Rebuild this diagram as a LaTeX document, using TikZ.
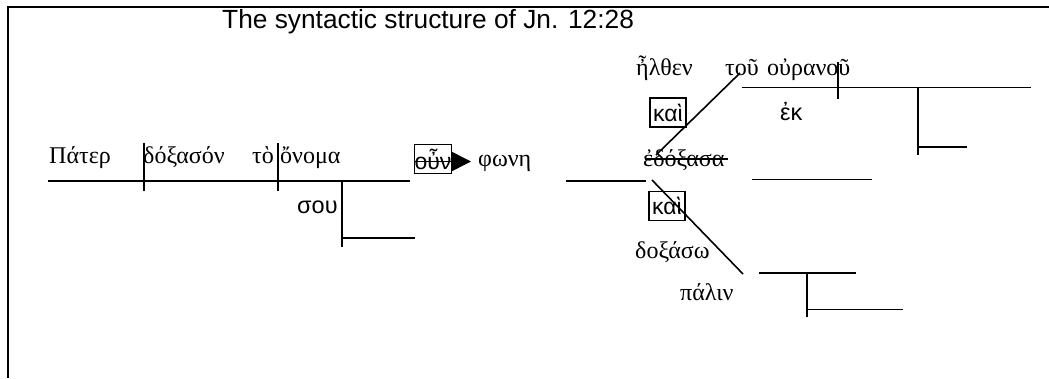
\documentclass[tikz,border=0pt]{standalone}
\usepackage{fontspec}
\setmainfont{Liberation Serif}
\newfontfamily\grsans{Liberation Sans}
\usetikzlibrary{arrows.meta}
\begin{document}
\begin{tikzpicture}[x=1pt,y=-1pt,
  ln/.style={line width=1.6pt},
  framel/.style={line width=2pt},
  gr/.style={anchor=base west,inner sep=0pt,font=\fontsize{24}{28}\selectfont},
  grs/.style={anchor=base west,inner sep=0pt,font=\grsans\fontsize{23.5}{28}\selectfont},
  kbox/.style={draw,line width=1.6pt,inner sep=0pt,minimum width=36pt,minimum height=29pt,font=\grsans\fontsize{23}{27}\selectfont}]
\useasboundingbox (0,0) rectangle (1049,378);
% frame
\coordinate (fTL) at (8,6.5);
\coordinate (fTR) at (1049,6.5);
\coordinate (fBL) at (8,378);
\draw[framel] (fTR) -- (fTL) -- (fBL);
% title
\node[anchor=base west,inner sep=0pt,font=\grsans\fontsize{26.3}{31}\selectfont] (title) at (222,28.3) {The syntactic structure of Jn. 12:28};
% words, left clause
\node[gr] (pater) at (49,163) {Πάτερ};
\node[gr] (doxason) at (143,163) {δόξασόν};
\node[gr] (to) at (252,163) {τὸ};
\node[gr] (onoma) at (280,163) {ὄνομα};
\node[grs] (sou) at (297,213) {σου};
\node[kbox] (oun) at (433,159) {οὖν};
\node[gr] (phone) at (478,166) {φωνη};
% right clause
\node[gr] (elthen) at (636,75) {ἦλθεν};
\node[gr] (tou) at (725,75) {τοῦ};
\node[gr] (ouranou) at (767,75) {οὐρανοῦ};
\node[kbox] (kai1) at (668,112.7) {καὶ};
\node[grs] (ek) at (780,120) {ἐκ};
\node[gr] (edoxasa) at (643,166) {ἐδόξασα};
\node[kbox] (kai2) at (667,206) {καὶ};
\node[gr] (doxaso) at (635,258) {δοξάσω};
\node[gr] (palin) at (680,300) {πάλιν};
% lines, left clause
\coordinate (mA) at (48,181);
\coordinate (mB) at (410,181);
\draw[ln] (mA) -- (mB);
\coordinate (t1a) at (144,143); \coordinate (t1b) at (144,191);
\draw[ln] (t1a) -- (t1b);
\coordinate (t2a) at (277.7,143); \coordinate (t2b) at (277.7,191);
\draw[ln] (t2a) -- (t2b);
\coordinate (sA) at (342,181); \coordinate (sB) at (342,247);
\draw[ln] (sA) -- (sB);
\coordinate (sC) at (342,238); \coordinate (sD) at (415,238);
\draw[ln] (sC) -- (sD);
% arrow through oun
\coordinate (arS) at (415,161.5); \coordinate (arE) at (471,161.5);
\draw[ln,-{Triangle[length=20pt,width=20pt]}] (arS) -- (arE);
% right clause lines
\coordinate (rA) at (566,181); \coordinate (rB) at (646,181);
\draw[ln] (rA) -- (rB);
\coordinate (stA) at (645,159); \coordinate (stB) at (728,159);
\draw[ln] (stA) -- (stB);
\coordinate (dU1) at (656,155); \coordinate (dU2) at (740,73);
\draw[ln] (dU1) -- (dU2);
\coordinate (dD1) at (652,180); \coordinate (dD2) at (743,274);
\draw[ln] (dD1) -- (dD2);
\coordinate (uA) at (742,87.3); \coordinate (uB) at (1031,87.3);
\draw[ln] (uA) -- (uB);
\coordinate (u1a) at (838,62); \coordinate (u1b) at (838,99);
\draw[ln] (u1a) -- (u1b);
\coordinate (u2a) at (918,88); \coordinate (u2b) at (918,155);
\draw[ln] (u2a) -- (u2b);
\coordinate (u3a) at (918,146.7); \coordinate (u3b) at (967,146.7);
\draw[ln] (u3a) -- (u3b);
\coordinate (eA) at (752,179.5); \coordinate (eB) at (872,179.5);
\draw[ln] (eA) -- (eB);
\coordinate (pA) at (759,272.7); \coordinate (pB) at (856,272.7);
\draw[ln] (pA) -- (pB);
\coordinate (p1a) at (807,272.7); \coordinate (p1b) at (807,316.7);
\draw[ln] (p1a) -- (p1b);
\coordinate (p2a) at (807,309.3); \coordinate (p2b) at (903,309.3);
\draw[ln] (p2a) -- (p2b);
\end{tikzpicture}
\end{document}
